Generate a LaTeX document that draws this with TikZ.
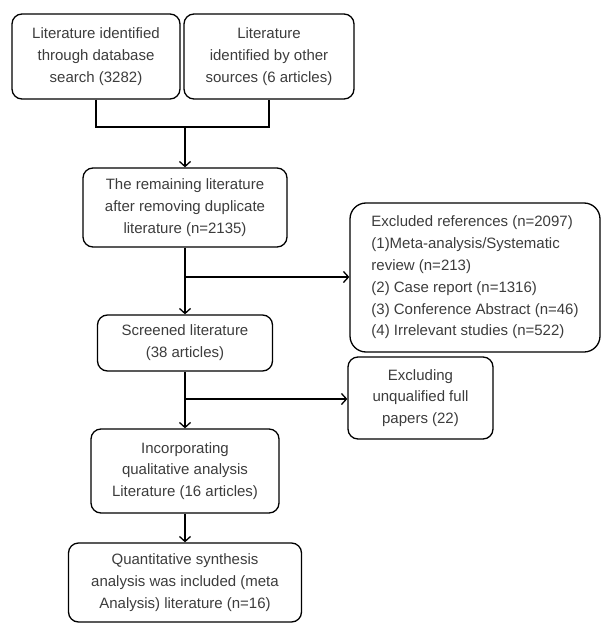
\documentclass[tikz,border=0pt]{standalone}
\usepackage{fontspec}
\setmainfont{Liberation Sans}
\usetikzlibrary{arrows.meta}
\definecolor{txtgray}{RGB}{60,60,60}
\begin{document}
\begin{tikzpicture}[x=1pt,y=-1pt,
    box/.style={draw,line width=1.3pt,rounded corners=10pt,align=center,
        text=txtgray,inner sep=2pt,
        font=\fontsize{15}{21.8}\selectfont},
    arr/.style={line width=1.3pt,-{Straight Barb[length=5pt,width=11pt,line width=1.3pt]}}]
    \useasboundingbox (0,0) rectangle (605,623);
    \node[box,minimum width=168pt,minimum height=85pt] (db) at (96,56.5)
        {Literature identified\\through database\\search (3282)};
    \node[box,minimum width=170pt,minimum height=85pt] (other) at (269,56.5)
        {Literature\\identified by other\\sources (6 articles)};
    \node[box,minimum width=204pt,minimum height=79pt] (remain) at (185,207.5)
        {The remaining literature\\after removing duplicate\\literature (n=2135)};
    \node[box,rounded corners=16pt,align=left,inner xsep=17pt,
        minimum width=250pt,minimum height=149pt] (excl) at (475,277.5)
        {Excluded references (n=2097)\\(1)Meta-analysis/Systematic\\review (n=213)\\(2) Case report (n=1316)\\(3) Conference Abstract (n=46)\\(4) Irrelevant studies (n=522)};
    \node[box,minimum width=175pt,minimum height=56pt] (screen) at (185,343)
        {Screened literature\\(38 articles)};
    \node[box,minimum width=145pt,minimum height=82pt] (unq) at (420.5,398)
        {Excluding\\unqualified full\\papers (22)};
    \node[box,minimum width=188pt,minimum height=84pt] (incorp) at (185,471)
        {Incorporating\\qualitative analysis\\Literature (16 articles)};
    \node[box,minimum width=233pt,minimum height=79pt] (quant) at (185,582.5)
        {Quantitative synthesis\\analysis was included (meta\\Analysis) literature (n=16)};
    % merge of the two sources
    \coordinate (join) at (185,127);
    \draw[line width=1.3pt] (db.south) |- (join) -| (other.south);
    \draw[arr] (join) -- (remain.north);
    % main flow
    \coordinate (b1) at (185,277);
    \coordinate (b2) at (185,399);
    \draw[arr] (remain.south) -- (screen.north);
    \draw[arr] (b1) -- (b1 -| excl.west);
    \draw[arr] (screen.south) -- (incorp.north);
    \draw[arr] (b2) -- (b2 -| unq.west);
    \draw[arr] (incorp.south) -- (quant.north);
\end{tikzpicture}
\end{document}
